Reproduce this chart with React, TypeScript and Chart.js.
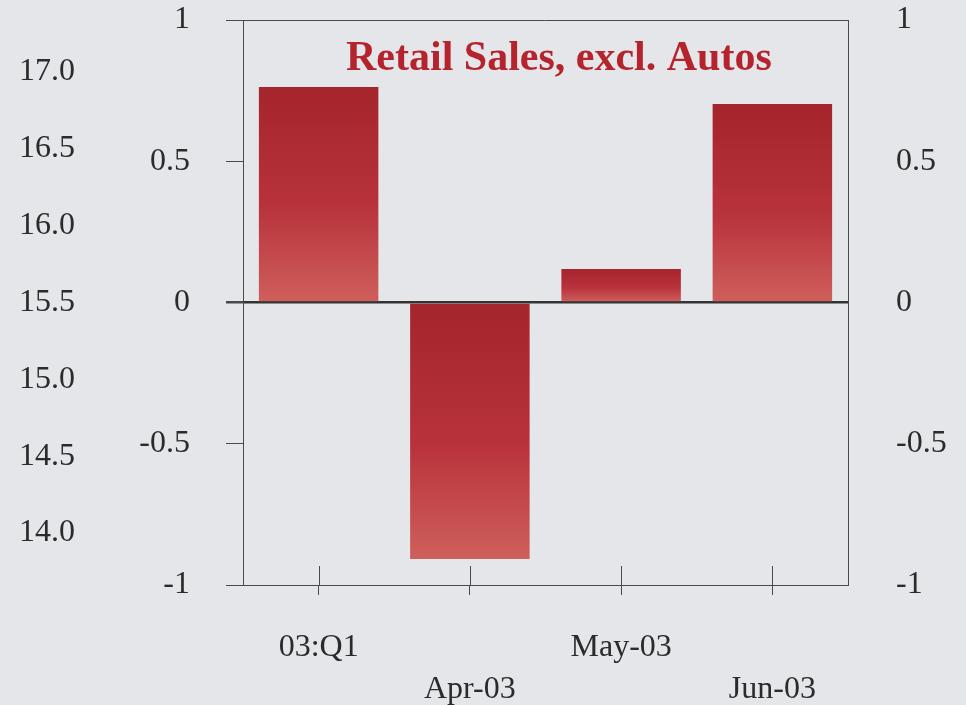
import React, { useEffect, useRef } from "react";
import { Chart, registerables } from "chart.js";

Chart.register(...registerables);

const categories: string[] = ["03:Q1", "Apr-03", "May-03", "Jun-03"];
const salesChange: number[] = [0.763, -0.908, 0.119, 0.703];
const innerTicks: number[] = [-1, -0.5, 0, 0.5, 1];
const outerTicks: number[] = [14.0, 14.5, 15.0, 15.5, 16.0, 16.5, 17.0];
const outerMin = 13.662;
const outerMax = 17.338;
const titleText = "Retail Sales, excl. Autos";

const FONT = "'Liberation Serif', 'Times New Roman', serif";
const BG = "#e4e6ea";
const AXIS = "#4a4a4a";
const TEXT = "#2b2b2b";

export default function App() {
  const ref = useRef<HTMLCanvasElement | null>(null);

  useEffect(() => {
    document.body.style.margin = "0";
    document.body.style.background = BG;
    const canvas = ref.current;
    if (!canvas) return;

    const framePlugin = {
      id: "frame",
      beforeDraw(chart: any) {
        const c = chart.ctx;
        c.save();
        c.fillStyle = BG;
        c.fillRect(0, 0, chart.width, chart.height);
        c.restore();
      },
      afterDatasetsDraw(chart: any) {
        const c = chart.ctx;
        const a = chart.chartArea;
        const xs = chart.scales.x;
        c.save();
        c.strokeStyle = AXIS;
        c.lineWidth = 1;
        // top border
        c.beginPath();
        c.moveTo(a.left, a.top + 0.5);
        c.lineTo(a.right, a.top + 0.5);
        c.stroke();
        // upward part of crossing x ticks
        for (let i = 0; i < xs.ticks.length; i++) {
          const px = Math.round(xs.getPixelForTick(i)) + 0.5;
          c.beginPath();
          c.moveTo(px, a.bottom);
          c.lineTo(px, a.bottom - 19);
          c.stroke();
        }
        // title
        c.fillStyle = "#b5242d";
        c.font = `bold 42px ${FONT}`;
        c.textAlign = "left";
        c.textBaseline = "alphabetic";
        c.fillText(titleText, a.left + 103, a.top + 50);
        c.restore();
      },
    };

    const noVPad = (s: any, w: number) => {
      s.width = w;
      s.paddingTop = 0;
      s.paddingBottom = 0;
    };

    const chart = new Chart(canvas, {
      type: "bar",
      data: {
        labels: categories,
        datasets: [
          {
            data: salesChange,
            yAxisID: "y",
            borderWidth: 0,
            categoryPercentage: 1,
            barPercentage: 0.79,
            backgroundColor: (ctx: any) => {
              const chart = ctx.chart;
              if (!chart.chartArea || ctx.type !== "data") return "#b83038";
              const v = ctx.raw as number;
              const ys = chart.scales.y;
              const top = ys.getPixelForValue(Math.max(v, 0));
              const bot = ys.getPixelForValue(Math.min(v, 0));
              const g = chart.ctx.createLinearGradient(0, top, 0, bot);
              g.addColorStop(0, "#a4252b");
              g.addColorStop(0.55, "#b8323b");
              g.addColorStop(1, "#ce5f5c");
              return g;
            },
          },
        ],
      },
      options: {
        responsive: false,
        animation: false,
        layout: { padding: { top: 20, bottom: 0, left: 0, right: 0 } },
        plugins: {
          legend: { display: false },
          title: { display: false },
          tooltip: { enabled: false },
        },
        scales: {
          x: {
            type: "category",
            offset: true,
            grid: {
              display: true,
              offset: false,
              drawOnChartArea: false,
              drawTicks: true,
              tickLength: 10,
              color: AXIS,
              lineWidth: 1,
            },
            border: { display: true, color: AXIS, width: 1 },
            ticks: {
              color: TEXT,
              font: { family: FONT, size: 32, lineHeight: 1.3 },
              padding: 32,
              maxRotation: 0,
              autoSkip: false,
              callback: (_v: any, i: number) =>
                i % 2 === 1 ? ["", categories[i]] : categories[i],
            },
            afterFit: (s: any) => {
              s.height = 120;
              s.paddingLeft = 0;
              s.paddingRight = 0;
            },
          },
          y3: {
            type: "linear",
            position: "left",
            weight: 10,
            min: outerMin,
            max: outerMax,
            grid: { display: false },
            border: { display: false },
            afterBuildTicks: (s: any) => {
              s.ticks = outerTicks.map((v) => ({ value: v }));
            },
            ticks: {
              color: TEXT,
              font: { family: FONT, size: 32 },
              padding: 17,
              callback: (v: any) => Number(v).toFixed(1),
            },
            afterFit: (s: any) => noVPad(s, 100),
          },
          y: {
            type: "linear",
            position: "left",
            weight: 0,
            min: -1,
            max: 1,
            afterBuildTicks: (s: any) => {
              s.ticks = innerTicks.map((v) => ({ value: v }));
            },
            grid: {
              display: true,
              drawOnChartArea: true,
              drawTicks: true,
              tickLength: 17,
              color: (ctx: any) =>
                ctx.tick && ctx.tick.value === 0 ? "#333333" : "rgba(0,0,0,0)",
              lineWidth: (ctx: any) =>
                ctx.tick && ctx.tick.value === 0 ? 2.5 : 1,
              tickColor: AXIS,
              tickWidth: (ctx: any) =>
                ctx.tick && ctx.tick.value === 0 ? 2.5 : 1,
            },
            border: { display: true, color: AXIS, width: 1 },
            ticks: {
              color: TEXT,
              font: { family: FONT, size: 32 },
              padding: 36,
              callback: (v: any) => String(v),
            },
            afterFit: (s: any) => noVPad(s, 143),
          },
          y2: {
            type: "linear",
            position: "right",
            min: -1,
            max: 1,
            afterBuildTicks: (s: any) => {
              s.ticks = innerTicks.map((v) => ({ value: v }));
            },
            grid: { display: false, drawOnChartArea: false },
            border: { display: true, color: AXIS, width: 1 },
            ticks: {
              color: TEXT,
              font: { family: FONT, size: 32 },
              padding: 40,
              callback: (v: any) => String(v),
            },
            afterFit: (s: any) => noVPad(s, 118),
          },
        },
      },
      plugins: [framePlugin],
    } as any);

    return () => {
      chart.destroy();
    };
  }, []);

  return (
    <div
      style={{
        position: "absolute",
        left: 0,
        top: 0,
        width: 966,
        height: 705,
        background: BG,
      }}
    >
      <canvas ref={ref} width={966} height={705} style={{ display: "block" }} />
    </div>
  );
}
